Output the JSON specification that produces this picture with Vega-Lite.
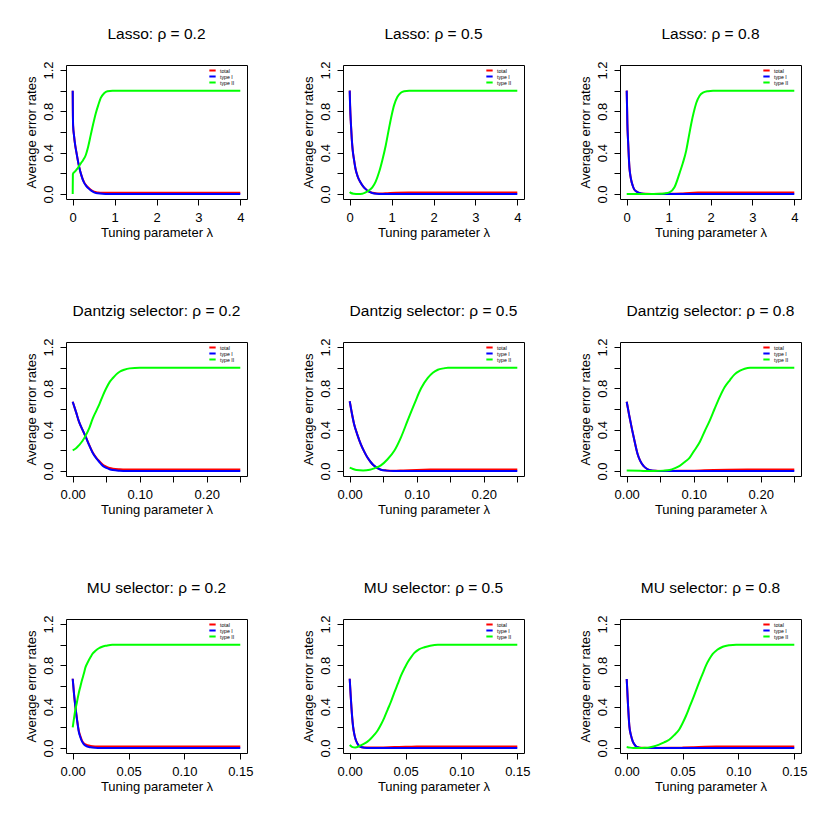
{
"$schema":"https://vega.github.io/schema/vega-lite/v6.json",
"padding":{"left":24,"top":26,"right":0,"bottom":0},
"background":"white",
"data":{"values":[
{"p":"L2","s":"total","x":0,"y":1.0},{"p":"L2","s":"total","x":0.004,"y":0.8},{"p":"L2","s":"total","x":0.01,"y":0.66},{"p":"L2","s":"total","x":0.03,"y":0.57},{"p":"L2","s":"total","x":0.06,"y":0.47},{"p":"L2","s":"total","x":0.09,"y":0.4},{"p":"L2","s":"total","x":0.15,"y":0.27},{"p":"L2","s":"total","x":0.2,"y":0.19},{"p":"L2","s":"total","x":0.27,"y":0.115},{"p":"L2","s":"total","x":0.33,"y":0.08},{"p":"L2","s":"total","x":0.39,"y":0.055},{"p":"L2","s":"total","x":0.45,"y":0.035},{"p":"L2","s":"total","x":0.51,"y":0.022},{"p":"L2","s":"total","x":0.6,"y":0.015},{"p":"L2","s":"total","x":0.71,"y":0.012},{"p":"L2","s":"total","x":0.85,"y":0.012},{"p":"L2","s":"total","x":1,"y":0.012},{"p":"L2","s":"total","x":2,"y":0.012},{"p":"L2","s":"total","x":3,"y":0.012},{"p":"L2","s":"total","x":4,"y":0.012},
{"p":"L2","s":"type I","x":0,"y":1.0},{"p":"L2","s":"type I","x":0.004,"y":0.8},{"p":"L2","s":"type I","x":0.01,"y":0.66},{"p":"L2","s":"type I","x":0.03,"y":0.57},{"p":"L2","s":"type I","x":0.06,"y":0.47},{"p":"L2","s":"type I","x":0.09,"y":0.4},{"p":"L2","s":"type I","x":0.15,"y":0.27},{"p":"L2","s":"type I","x":0.2,"y":0.19},{"p":"L2","s":"type I","x":0.27,"y":0.11},{"p":"L2","s":"type I","x":0.33,"y":0.075},{"p":"L2","s":"type I","x":0.39,"y":0.05},{"p":"L2","s":"type I","x":0.45,"y":0.03},{"p":"L2","s":"type I","x":0.51,"y":0.016},{"p":"L2","s":"type I","x":0.6,"y":0.007},{"p":"L2","s":"type I","x":0.71,"y":0.002},{"p":"L2","s":"type I","x":0.85,"y":0},{"p":"L2","s":"type I","x":1,"y":0},{"p":"L2","s":"type I","x":2,"y":0},{"p":"L2","s":"type I","x":3,"y":0},{"p":"L2","s":"type I","x":4,"y":0},
{"p":"L2","s":"type II","x":0,"y":0},{"p":"L2","s":"type II","x":0.004,"y":0.19},{"p":"L2","s":"type II","x":0.02,"y":0.205},{"p":"L2","s":"type II","x":0.06,"y":0.22},{"p":"L2","s":"type II","x":0.1,"y":0.24},{"p":"L2","s":"type II","x":0.15,"y":0.27},{"p":"L2","s":"type II","x":0.2,"y":0.3},{"p":"L2","s":"type II","x":0.25,"y":0.33},{"p":"L2","s":"type II","x":0.31,"y":0.375},{"p":"L2","s":"type II","x":0.37,"y":0.46},{"p":"L2","s":"type II","x":0.43,"y":0.57},{"p":"L2","s":"type II","x":0.49,"y":0.68},{"p":"L2","s":"type II","x":0.55,"y":0.78},{"p":"L2","s":"type II","x":0.61,"y":0.86},{"p":"L2","s":"type II","x":0.67,"y":0.93},{"p":"L2","s":"type II","x":0.75,"y":0.975},{"p":"L2","s":"type II","x":0.83,"y":0.995},{"p":"L2","s":"type II","x":0.95,"y":1},{"p":"L2","s":"type II","x":1.5,"y":1},{"p":"L2","s":"type II","x":2,"y":1},{"p":"L2","s":"type II","x":3,"y":1},{"p":"L2","s":"type II","x":4,"y":1},

{"p":"L5","s":"total","x":0,"y":1.0},{"p":"L5","s":"total","x":0.01,"y":0.85},{"p":"L5","s":"total","x":0.03,"y":0.67},{"p":"L5","s":"total","x":0.05,"y":0.53},{"p":"L5","s":"total","x":0.07,"y":0.43},{"p":"L5","s":"total","x":0.1,"y":0.34},{"p":"L5","s":"total","x":0.136,"y":0.25},{"p":"L5","s":"total","x":0.19,"y":0.17},{"p":"L5","s":"total","x":0.256,"y":0.114},{"p":"L5","s":"total","x":0.32,"y":0.075},{"p":"L5","s":"total","x":0.376,"y":0.05},{"p":"L5","s":"total","x":0.45,"y":0.025},{"p":"L5","s":"total","x":0.536,"y":0.012},{"p":"L5","s":"total","x":0.65,"y":0.006},{"p":"L5","s":"total","x":0.75,"y":0.005},{"p":"L5","s":"total","x":0.9,"y":0.008},{"p":"L5","s":"total","x":1.1,"y":0.012},{"p":"L5","s":"total","x":1.4,"y":0.014},{"p":"L5","s":"total","x":2,"y":0.014},{"p":"L5","s":"total","x":4,"y":0.014},
{"p":"L5","s":"type I","x":0,"y":1.0},{"p":"L5","s":"type I","x":0.01,"y":0.85},{"p":"L5","s":"type I","x":0.03,"y":0.67},{"p":"L5","s":"type I","x":0.05,"y":0.53},{"p":"L5","s":"type I","x":0.07,"y":0.43},{"p":"L5","s":"type I","x":0.1,"y":0.34},{"p":"L5","s":"type I","x":0.136,"y":0.25},{"p":"L5","s":"type I","x":0.19,"y":0.17},{"p":"L5","s":"type I","x":0.256,"y":0.114},{"p":"L5","s":"type I","x":0.32,"y":0.075},{"p":"L5","s":"type I","x":0.376,"y":0.05},{"p":"L5","s":"type I","x":0.45,"y":0.025},{"p":"L5","s":"type I","x":0.536,"y":0.01},{"p":"L5","s":"type I","x":0.65,"y":0.002},{"p":"L5","s":"type I","x":0.75,"y":0},{"p":"L5","s":"type I","x":1,"y":0},{"p":"L5","s":"type I","x":2,"y":0},{"p":"L5","s":"type I","x":4,"y":0},
{"p":"L5","s":"type II","x":0,"y":0.02},{"p":"L5","s":"type II","x":0.03,"y":0.01},{"p":"L5","s":"type II","x":0.1,"y":0.003},{"p":"L5","s":"type II","x":0.2,"y":0},{"p":"L5","s":"type II","x":0.3,"y":0.003},{"p":"L5","s":"type II","x":0.38,"y":0.016},{"p":"L5","s":"type II","x":0.46,"y":0.035},{"p":"L5","s":"type II","x":0.54,"y":0.065},{"p":"L5","s":"type II","x":0.62,"y":0.12},{"p":"L5","s":"type II","x":0.7,"y":0.21},{"p":"L5","s":"type II","x":0.78,"y":0.33},{"p":"L5","s":"type II","x":0.86,"y":0.47},{"p":"L5","s":"type II","x":0.94,"y":0.64},{"p":"L5","s":"type II","x":1.0,"y":0.76},{"p":"L5","s":"type II","x":1.06,"y":0.86},{"p":"L5","s":"type II","x":1.14,"y":0.94},{"p":"L5","s":"type II","x":1.22,"y":0.98},{"p":"L5","s":"type II","x":1.3,"y":0.995},{"p":"L5","s":"type II","x":1.42,"y":1},{"p":"L5","s":"type II","x":2,"y":1},{"p":"L5","s":"type II","x":3,"y":1},{"p":"L5","s":"type II","x":4,"y":1},

{"p":"L8","s":"total","x":0,"y":1.0},{"p":"L8","s":"total","x":0.008,"y":0.85},{"p":"L8","s":"total","x":0.016,"y":0.68},{"p":"L8","s":"total","x":0.032,"y":0.52},{"p":"L8","s":"total","x":0.048,"y":0.38},{"p":"L8","s":"total","x":0.064,"y":0.26},{"p":"L8","s":"total","x":0.08,"y":0.2},{"p":"L8","s":"total","x":0.104,"y":0.14},{"p":"L8","s":"total","x":0.144,"y":0.08},{"p":"L8","s":"total","x":0.18,"y":0.045},{"p":"L8","s":"total","x":0.224,"y":0.026},{"p":"L8","s":"total","x":0.28,"y":0.013},{"p":"L8","s":"total","x":0.344,"y":0.006},{"p":"L8","s":"total","x":0.45,"y":0.002},{"p":"L8","s":"total","x":0.6,"y":0.001},{"p":"L8","s":"total","x":1.0,"y":0.002},{"p":"L8","s":"total","x":1.3,"y":0.006},{"p":"L8","s":"total","x":1.5,"y":0.011},{"p":"L8","s":"total","x":1.7,"y":0.014},{"p":"L8","s":"total","x":2,"y":0.015},{"p":"L8","s":"total","x":4,"y":0.015},
{"p":"L8","s":"type I","x":0,"y":1.0},{"p":"L8","s":"type I","x":0.008,"y":0.85},{"p":"L8","s":"type I","x":0.016,"y":0.68},{"p":"L8","s":"type I","x":0.032,"y":0.52},{"p":"L8","s":"type I","x":0.048,"y":0.38},{"p":"L8","s":"type I","x":0.064,"y":0.26},{"p":"L8","s":"type I","x":0.08,"y":0.2},{"p":"L8","s":"type I","x":0.104,"y":0.14},{"p":"L8","s":"type I","x":0.144,"y":0.08},{"p":"L8","s":"type I","x":0.18,"y":0.045},{"p":"L8","s":"type I","x":0.224,"y":0.026},{"p":"L8","s":"type I","x":0.28,"y":0.013},{"p":"L8","s":"type I","x":0.344,"y":0.006},{"p":"L8","s":"type I","x":0.45,"y":0.001},{"p":"L8","s":"type I","x":0.6,"y":0},{"p":"L8","s":"type I","x":1,"y":0},{"p":"L8","s":"type I","x":2,"y":0},{"p":"L8","s":"type I","x":4,"y":0},
{"p":"L8","s":"type II","x":0,"y":0},{"p":"L8","s":"type II","x":0.5,"y":0},{"p":"L8","s":"type II","x":0.8,"y":0.002},{"p":"L8","s":"type II","x":0.9,"y":0.006},{"p":"L8","s":"type II","x":1.02,"y":0.016},{"p":"L8","s":"type II","x":1.14,"y":0.065},{"p":"L8","s":"type II","x":1.26,"y":0.2},{"p":"L8","s":"type II","x":1.34,"y":0.3},{"p":"L8","s":"type II","x":1.42,"y":0.42},{"p":"L8","s":"type II","x":1.48,"y":0.55},{"p":"L8","s":"type II","x":1.54,"y":0.68},{"p":"L8","s":"type II","x":1.6,"y":0.79},{"p":"L8","s":"type II","x":1.66,"y":0.88},{"p":"L8","s":"type II","x":1.74,"y":0.95},{"p":"L8","s":"type II","x":1.82,"y":0.98},{"p":"L8","s":"type II","x":1.94,"y":0.995},{"p":"L8","s":"type II","x":2.06,"y":1},{"p":"L8","s":"type II","x":2.5,"y":1},{"p":"L8","s":"type II","x":3,"y":1},{"p":"L8","s":"type II","x":4,"y":1},

{"p":"D2","s":"total","x":0,"y":0.67},{"p":"D2","s":"total","x":0.005,"y":0.57},{"p":"D2","s":"total","x":0.0095,"y":0.475},{"p":"D2","s":"total","x":0.0145,"y":0.4},{"p":"D2","s":"total","x":0.0195,"y":0.33},{"p":"D2","s":"total","x":0.0245,"y":0.255},{"p":"D2","s":"total","x":0.0295,"y":0.185},{"p":"D2","s":"total","x":0.035,"y":0.13},{"p":"D2","s":"total","x":0.04,"y":0.093},{"p":"D2","s":"total","x":0.045,"y":0.06},{"p":"D2","s":"total","x":0.05,"y":0.042},{"p":"D2","s":"total","x":0.055,"y":0.03},{"p":"D2","s":"total","x":0.06,"y":0.023},{"p":"D2","s":"total","x":0.07,"y":0.017},{"p":"D2","s":"total","x":0.08,"y":0.015},{"p":"D2","s":"total","x":0.15,"y":0.015},{"p":"D2","s":"total","x":0.25,"y":0.015},
{"p":"D2","s":"type I","x":0,"y":0.67},{"p":"D2","s":"type I","x":0.005,"y":0.57},{"p":"D2","s":"type I","x":0.0095,"y":0.475},{"p":"D2","s":"type I","x":0.0145,"y":0.4},{"p":"D2","s":"type I","x":0.0195,"y":0.33},{"p":"D2","s":"type I","x":0.0245,"y":0.25},{"p":"D2","s":"type I","x":0.0295,"y":0.18},{"p":"D2","s":"type I","x":0.035,"y":0.125},{"p":"D2","s":"type I","x":0.04,"y":0.085},{"p":"D2","s":"type I","x":0.045,"y":0.05},{"p":"D2","s":"type I","x":0.05,"y":0.03},{"p":"D2","s":"type I","x":0.055,"y":0.018},{"p":"D2","s":"type I","x":0.06,"y":0.01},{"p":"D2","s":"type I","x":0.07,"y":0.003},{"p":"D2","s":"type I","x":0.08,"y":0},{"p":"D2","s":"type I","x":0.15,"y":0},{"p":"D2","s":"type I","x":0.25,"y":0},
{"p":"D2","s":"type II","x":0,"y":0.2},{"p":"D2","s":"type II","x":0.005,"y":0.22},{"p":"D2","s":"type II","x":0.0095,"y":0.25},{"p":"D2","s":"type II","x":0.0145,"y":0.29},{"p":"D2","s":"type II","x":0.0195,"y":0.345},{"p":"D2","s":"type II","x":0.025,"y":0.42},{"p":"D2","s":"type II","x":0.03,"y":0.51},{"p":"D2","s":"type II","x":0.035,"y":0.58},{"p":"D2","s":"type II","x":0.04,"y":0.65},{"p":"D2","s":"type II","x":0.045,"y":0.73},{"p":"D2","s":"type II","x":0.05,"y":0.8},{"p":"D2","s":"type II","x":0.055,"y":0.86},{"p":"D2","s":"type II","x":0.06,"y":0.9},{"p":"D2","s":"type II","x":0.065,"y":0.935},{"p":"D2","s":"type II","x":0.07,"y":0.96},{"p":"D2","s":"type II","x":0.077,"y":0.98},{"p":"D2","s":"type II","x":0.085,"y":0.993},{"p":"D2","s":"type II","x":0.1,"y":1},{"p":"D2","s":"type II","x":0.15,"y":1},{"p":"D2","s":"type II","x":0.25,"y":1},

{"p":"D5","s":"total","x":0,"y":0.675},{"p":"D5","s":"total","x":0.0065,"y":0.456},{"p":"D5","s":"total","x":0.0115,"y":0.35},{"p":"D5","s":"total","x":0.0165,"y":0.26},{"p":"D5","s":"total","x":0.0215,"y":0.19},{"p":"D5","s":"total","x":0.0265,"y":0.13},{"p":"D5","s":"total","x":0.0315,"y":0.085},{"p":"D5","s":"total","x":0.0365,"y":0.05},{"p":"D5","s":"total","x":0.0415,"y":0.028},{"p":"D5","s":"total","x":0.0465,"y":0.014},{"p":"D5","s":"total","x":0.055,"y":0.006},{"p":"D5","s":"total","x":0.065,"y":0.003},{"p":"D5","s":"total","x":0.08,"y":0.006},{"p":"D5","s":"total","x":0.1,"y":0.011},{"p":"D5","s":"total","x":0.12,"y":0.014},{"p":"D5","s":"total","x":0.15,"y":0.015},{"p":"D5","s":"total","x":0.25,"y":0.015},
{"p":"D5","s":"type I","x":0,"y":0.675},{"p":"D5","s":"type I","x":0.0065,"y":0.456},{"p":"D5","s":"type I","x":0.0115,"y":0.35},{"p":"D5","s":"type I","x":0.0165,"y":0.26},{"p":"D5","s":"type I","x":0.0215,"y":0.19},{"p":"D5","s":"type I","x":0.0265,"y":0.13},{"p":"D5","s":"type I","x":0.0315,"y":0.085},{"p":"D5","s":"type I","x":0.0365,"y":0.05},{"p":"D5","s":"type I","x":0.0415,"y":0.028},{"p":"D5","s":"type I","x":0.0465,"y":0.013},{"p":"D5","s":"type I","x":0.055,"y":0.004},{"p":"D5","s":"type I","x":0.065,"y":0},{"p":"D5","s":"type I","x":0.15,"y":0},{"p":"D5","s":"type I","x":0.25,"y":0},
{"p":"D5","s":"type II","x":0,"y":0.033},{"p":"D5","s":"type II","x":0.005,"y":0.02},{"p":"D5","s":"type II","x":0.01,"y":0.01},{"p":"D5","s":"type II","x":0.02,"y":0.006},{"p":"D5","s":"type II","x":0.03,"y":0.012},{"p":"D5","s":"type II","x":0.0365,"y":0.026},{"p":"D5","s":"type II","x":0.0465,"y":0.055},{"p":"D5","s":"type II","x":0.0565,"y":0.114},{"p":"D5","s":"type II","x":0.0665,"y":0.196},{"p":"D5","s":"type II","x":0.0765,"y":0.326},{"p":"D5","s":"type II","x":0.0865,"y":0.49},{"p":"D5","s":"type II","x":0.0965,"y":0.65},{"p":"D5","s":"type II","x":0.1065,"y":0.8},{"p":"D5","s":"type II","x":0.1165,"y":0.9},{"p":"D5","s":"type II","x":0.124,"y":0.95},{"p":"D5","s":"type II","x":0.1315,"y":0.98},{"p":"D5","s":"type II","x":0.14,"y":0.993},{"p":"D5","s":"type II","x":0.1465,"y":1},{"p":"D5","s":"type II","x":0.2,"y":1},{"p":"D5","s":"type II","x":0.25,"y":1},

{"p":"D8","s":"total","x":0,"y":0.67},{"p":"D8","s":"total","x":0.004,"y":0.53},{"p":"D8","s":"total","x":0.008,"y":0.4},{"p":"D8","s":"total","x":0.012,"y":0.28},{"p":"D8","s":"total","x":0.016,"y":0.17},{"p":"D8","s":"total","x":0.02,"y":0.1},{"p":"D8","s":"total","x":0.025,"y":0.05},{"p":"D8","s":"total","x":0.03,"y":0.022},{"p":"D8","s":"total","x":0.035,"y":0.008},{"p":"D8","s":"total","x":0.042,"y":0.002},{"p":"D8","s":"total","x":0.05,"y":0.001},{"p":"D8","s":"total","x":0.08,"y":0.002},{"p":"D8","s":"total","x":0.11,"y":0.006},{"p":"D8","s":"total","x":0.13,"y":0.01},{"p":"D8","s":"total","x":0.15,"y":0.013},{"p":"D8","s":"total","x":0.18,"y":0.015},{"p":"D8","s":"total","x":0.25,"y":0.015},
{"p":"D8","s":"type I","x":0,"y":0.67},{"p":"D8","s":"type I","x":0.004,"y":0.53},{"p":"D8","s":"type I","x":0.008,"y":0.4},{"p":"D8","s":"type I","x":0.012,"y":0.28},{"p":"D8","s":"type I","x":0.016,"y":0.17},{"p":"D8","s":"type I","x":0.02,"y":0.1},{"p":"D8","s":"type I","x":0.025,"y":0.05},{"p":"D8","s":"type I","x":0.03,"y":0.022},{"p":"D8","s":"type I","x":0.035,"y":0.008},{"p":"D8","s":"type I","x":0.042,"y":0.002},{"p":"D8","s":"type I","x":0.05,"y":0},{"p":"D8","s":"type I","x":0.15,"y":0},{"p":"D8","s":"type I","x":0.25,"y":0},
{"p":"D8","s":"type II","x":0,"y":0.005},{"p":"D8","s":"type II","x":0.02,"y":0.002},{"p":"D8","s":"type II","x":0.04,"y":0},{"p":"D8","s":"type II","x":0.055,"y":0.004},{"p":"D8","s":"type II","x":0.064,"y":0.01},{"p":"D8","s":"type II","x":0.072,"y":0.028},{"p":"D8","s":"type II","x":0.079,"y":0.05},{"p":"D8","s":"type II","x":0.087,"y":0.09},{"p":"D8","s":"type II","x":0.094,"y":0.13},{"p":"D8","s":"type II","x":0.1,"y":0.19},{"p":"D8","s":"type II","x":0.109,"y":0.28},{"p":"D8","s":"type II","x":0.116,"y":0.38},{"p":"D8","s":"type II","x":0.124,"y":0.49},{"p":"D8","s":"type II","x":0.131,"y":0.6},{"p":"D8","s":"type II","x":0.139,"y":0.72},{"p":"D8","s":"type II","x":0.146,"y":0.81},{"p":"D8","s":"type II","x":0.154,"y":0.88},{"p":"D8","s":"type II","x":0.161,"y":0.935},{"p":"D8","s":"type II","x":0.169,"y":0.97},{"p":"D8","s":"type II","x":0.176,"y":0.99},{"p":"D8","s":"type II","x":0.184,"y":1},{"p":"D8","s":"type II","x":0.25,"y":1},

{"p":"M2","s":"total","x":0,"y":0.67},{"p":"M2","s":"total","x":0.0012,"y":0.52},{"p":"M2","s":"total","x":0.0024,"y":0.4},{"p":"M2","s":"total","x":0.0039,"y":0.275},{"p":"M2","s":"total","x":0.0054,"y":0.17},{"p":"M2","s":"total","x":0.007,"y":0.11},{"p":"M2","s":"total","x":0.0084,"y":0.07},{"p":"M2","s":"total","x":0.0114,"y":0.035},{"p":"M2","s":"total","x":0.016,"y":0.02},{"p":"M2","s":"total","x":0.02,"y":0.016},{"p":"M2","s":"total","x":0.03,"y":0.015},{"p":"M2","s":"total","x":0.15,"y":0.015},
{"p":"M2","s":"type I","x":0,"y":0.67},{"p":"M2","s":"type I","x":0.0012,"y":0.52},{"p":"M2","s":"type I","x":0.0024,"y":0.4},{"p":"M2","s":"type I","x":0.0039,"y":0.27},{"p":"M2","s":"type I","x":0.0054,"y":0.16},{"p":"M2","s":"type I","x":0.007,"y":0.1},{"p":"M2","s":"type I","x":0.0084,"y":0.062},{"p":"M2","s":"type I","x":0.0114,"y":0.023},{"p":"M2","s":"type I","x":0.016,"y":0.007},{"p":"M2","s":"type I","x":0.02,"y":0.002},{"p":"M2","s":"type I","x":0.025,"y":0},{"p":"M2","s":"type I","x":0.15,"y":0},
{"p":"M2","s":"type II","x":0,"y":0.2},{"p":"M2","s":"type II","x":0.0012,"y":0.29},{"p":"M2","s":"type II","x":0.0024,"y":0.37},{"p":"M2","s":"type II","x":0.0039,"y":0.45},{"p":"M2","s":"type II","x":0.0054,"y":0.53},{"p":"M2","s":"type II","x":0.007,"y":0.6},{"p":"M2","s":"type II","x":0.0084,"y":0.66},{"p":"M2","s":"type II","x":0.01,"y":0.72},{"p":"M2","s":"type II","x":0.0114,"y":0.78},{"p":"M2","s":"type II","x":0.0135,"y":0.83},{"p":"M2","s":"type II","x":0.016,"y":0.88},{"p":"M2","s":"type II","x":0.018,"y":0.915},{"p":"M2","s":"type II","x":0.0204,"y":0.94},{"p":"M2","s":"type II","x":0.0234,"y":0.965},{"p":"M2","s":"type II","x":0.0264,"y":0.98},{"p":"M2","s":"type II","x":0.03,"y":0.99},{"p":"M2","s":"type II","x":0.0354,"y":1},{"p":"M2","s":"type II","x":0.15,"y":1},

{"p":"M5","s":"total","x":0,"y":0.67},{"p":"M5","s":"total","x":0.0008,"y":0.52},{"p":"M5","s":"total","x":0.0015,"y":0.4},{"p":"M5","s":"total","x":0.003,"y":0.21},{"p":"M5","s":"total","x":0.0042,"y":0.13},{"p":"M5","s":"total","x":0.0054,"y":0.08},{"p":"M5","s":"total","x":0.007,"y":0.042},{"p":"M5","s":"total","x":0.0084,"y":0.02},{"p":"M5","s":"total","x":0.011,"y":0.008},{"p":"M5","s":"total","x":0.015,"y":0.004},{"p":"M5","s":"total","x":0.02,"y":0.004},{"p":"M5","s":"total","x":0.03,"y":0.006},{"p":"M5","s":"total","x":0.04,"y":0.009},{"p":"M5","s":"total","x":0.05,"y":0.012},{"p":"M5","s":"total","x":0.06,"y":0.014},{"p":"M5","s":"total","x":0.08,"y":0.015},{"p":"M5","s":"total","x":0.15,"y":0.015},
{"p":"M5","s":"type I","x":0,"y":0.67},{"p":"M5","s":"type I","x":0.0008,"y":0.52},{"p":"M5","s":"type I","x":0.0015,"y":0.4},{"p":"M5","s":"type I","x":0.003,"y":0.21},{"p":"M5","s":"type I","x":0.0042,"y":0.13},{"p":"M5","s":"type I","x":0.0054,"y":0.08},{"p":"M5","s":"type I","x":0.007,"y":0.042},{"p":"M5","s":"type I","x":0.0084,"y":0.02},{"p":"M5","s":"type I","x":0.011,"y":0.007},{"p":"M5","s":"type I","x":0.013,"y":0.003},{"p":"M5","s":"type I","x":0.018,"y":0},{"p":"M5","s":"type I","x":0.15,"y":0},
{"p":"M5","s":"type II","x":0,"y":0.03},{"p":"M5","s":"type II","x":0.002,"y":0.012},{"p":"M5","s":"type II","x":0.005,"y":0.005},{"p":"M5","s":"type II","x":0.0075,"y":0.012},{"p":"M5","s":"type II","x":0.0099,"y":0.026},{"p":"M5","s":"type II","x":0.013,"y":0.042},{"p":"M5","s":"type II","x":0.0159,"y":0.062},{"p":"M5","s":"type II","x":0.019,"y":0.092},{"p":"M5","s":"type II","x":0.0219,"y":0.127},{"p":"M5","s":"type II","x":0.025,"y":0.17},{"p":"M5","s":"type II","x":0.0279,"y":0.225},{"p":"M5","s":"type II","x":0.031,"y":0.295},{"p":"M5","s":"type II","x":0.0339,"y":0.37},{"p":"M5","s":"type II","x":0.037,"y":0.45},{"p":"M5","s":"type II","x":0.0399,"y":0.535},{"p":"M5","s":"type II","x":0.043,"y":0.62},{"p":"M5","s":"type II","x":0.0459,"y":0.7},{"p":"M5","s":"type II","x":0.049,"y":0.77},{"p":"M5","s":"type II","x":0.0519,"y":0.83},{"p":"M5","s":"type II","x":0.055,"y":0.88},{"p":"M5","s":"type II","x":0.0579,"y":0.92},{"p":"M5","s":"type II","x":0.062,"y":0.955},{"p":"M5","s":"type II","x":0.0669,"y":0.975},{"p":"M5","s":"type II","x":0.072,"y":0.99},{"p":"M5","s":"type II","x":0.0789,"y":1},{"p":"M5","s":"type II","x":0.15,"y":1},

{"p":"M8","s":"total","x":0,"y":0.668},{"p":"M8","s":"total","x":0.0006,"y":0.54},{"p":"M8","s":"total","x":0.0012,"y":0.41},{"p":"M8","s":"total","x":0.0018,"y":0.3},{"p":"M8","s":"total","x":0.0024,"y":0.21},{"p":"M8","s":"total","x":0.0039,"y":0.12},{"p":"M8","s":"total","x":0.0054,"y":0.065},{"p":"M8","s":"total","x":0.0069,"y":0.035},{"p":"M8","s":"total","x":0.0084,"y":0.016},{"p":"M8","s":"total","x":0.0105,"y":0.006},{"p":"M8","s":"total","x":0.013,"y":0.002},{"p":"M8","s":"total","x":0.02,"y":0.001},{"p":"M8","s":"total","x":0.04,"y":0.002},{"p":"M8","s":"total","x":0.05,"y":0.004},{"p":"M8","s":"total","x":0.06,"y":0.008},{"p":"M8","s":"total","x":0.07,"y":0.012},{"p":"M8","s":"total","x":0.08,"y":0.014},{"p":"M8","s":"total","x":0.1,"y":0.015},{"p":"M8","s":"total","x":0.15,"y":0.015},
{"p":"M8","s":"type I","x":0,"y":0.668},{"p":"M8","s":"type I","x":0.0006,"y":0.54},{"p":"M8","s":"type I","x":0.0012,"y":0.41},{"p":"M8","s":"type I","x":0.0018,"y":0.3},{"p":"M8","s":"type I","x":0.0024,"y":0.21},{"p":"M8","s":"type I","x":0.0039,"y":0.12},{"p":"M8","s":"type I","x":0.0054,"y":0.065},{"p":"M8","s":"type I","x":0.0069,"y":0.035},{"p":"M8","s":"type I","x":0.0084,"y":0.016},{"p":"M8","s":"type I","x":0.0105,"y":0.006},{"p":"M8","s":"type I","x":0.013,"y":0.001},{"p":"M8","s":"type I","x":0.016,"y":0},{"p":"M8","s":"type I","x":0.15,"y":0},
{"p":"M8","s":"type II","x":0,"y":0.01},{"p":"M8","s":"type II","x":0.003,"y":0.004},{"p":"M8","s":"type II","x":0.006,"y":0.001},{"p":"M8","s":"type II","x":0.012,"y":0},{"p":"M8","s":"type II","x":0.016,"y":0.002},{"p":"M8","s":"type II","x":0.02,"y":0.006},{"p":"M8","s":"type II","x":0.024,"y":0.015},{"p":"M8","s":"type II","x":0.029,"y":0.033},{"p":"M8","s":"type II","x":0.0335,"y":0.055},{"p":"M8","s":"type II","x":0.038,"y":0.08},{"p":"M8","s":"type II","x":0.0425,"y":0.125},{"p":"M8","s":"type II","x":0.047,"y":0.18},{"p":"M8","s":"type II","x":0.05,"y":0.24},{"p":"M8","s":"type II","x":0.053,"y":0.31},{"p":"M8","s":"type II","x":0.056,"y":0.39},{"p":"M8","s":"type II","x":0.059,"y":0.47},{"p":"M8","s":"type II","x":0.062,"y":0.555},{"p":"M8","s":"type II","x":0.065,"y":0.64},{"p":"M8","s":"type II","x":0.068,"y":0.72},{"p":"M8","s":"type II","x":0.071,"y":0.8},{"p":"M8","s":"type II","x":0.074,"y":0.86},{"p":"M8","s":"type II","x":0.077,"y":0.91},{"p":"M8","s":"type II","x":0.081,"y":0.95},{"p":"M8","s":"type II","x":0.086,"y":0.98},{"p":"M8","s":"type II","x":0.092,"y":0.995},{"p":"M8","s":"type II","x":0.098,"y":1},{"p":"M8","s":"type II","x":0.15,"y":1}
]},
"columns":3,
"spacing":{"row":143,"column":96},
"bounds":"flush",
"resolve":{"scale":{"color":"independent"},"legend":{"color":"independent"}},
"concat":[
{"title":"Lasso: ρ = 0.2","width":181,"height":134,"transform":[{"filter":"datum.p=='L2'"}],
 "encoding":{"x":{"field":"x","type":"quantitative","scale":{"domain":[-0.16,4.16],"nice":false,"zero":false},"axis":{"values":[0,1,2,3,4],"format":"d","title":"Tuning parameter λ"}},
  "y":{"field":"y","type":"quantitative","scale":{"domain":[-0.048,1.248],"nice":false},"axis":{"values":[0,0.2,0.4,0.6,0.8,1,1.2],"labelExpr":"round(datum.value*10)%4==0 ? format(datum.value,'.1f') : ''","title":"Average error rates"}},
  "color":{"field":"s","type":"nominal","title":null,"scale":{"domain":["total","type I","type II"],"range":["#ff0000","#0000ff","#00ff00"]}}},
 "layer":[{"transform":[{"filter":"datum.s=='total'"}],"mark":"line"},{"transform":[{"filter":"datum.s=='type I'"}],"mark":"line"},{"transform":[{"filter":"datum.s=='type II'"}],"mark":"line"}]},
{"title":"Lasso: ρ = 0.5","width":181,"height":134,"transform":[{"filter":"datum.p=='L5'"}],
 "encoding":{"x":{"field":"x","type":"quantitative","scale":{"domain":[-0.16,4.16],"nice":false,"zero":false},"axis":{"values":[0,1,2,3,4],"format":"d","title":"Tuning parameter λ"}},
  "y":{"field":"y","type":"quantitative","scale":{"domain":[-0.048,1.248],"nice":false},"axis":{"values":[0,0.2,0.4,0.6,0.8,1,1.2],"labelExpr":"round(datum.value*10)%4==0 ? format(datum.value,'.1f') : ''","title":"Average error rates"}},
  "color":{"field":"s","type":"nominal","title":null,"scale":{"domain":["total","type I","type II"],"range":["#ff0000","#0000ff","#00ff00"]}}},
 "layer":[{"transform":[{"filter":"datum.s=='total'"}],"mark":"line"},{"transform":[{"filter":"datum.s=='type I'"}],"mark":"line"},{"transform":[{"filter":"datum.s=='type II'"}],"mark":"line"}]},
{"title":"Lasso: ρ = 0.8","width":181,"height":134,"transform":[{"filter":"datum.p=='L8'"}],
 "encoding":{"x":{"field":"x","type":"quantitative","scale":{"domain":[-0.16,4.16],"nice":false,"zero":false},"axis":{"values":[0,1,2,3,4],"format":"d","title":"Tuning parameter λ"}},
  "y":{"field":"y","type":"quantitative","scale":{"domain":[-0.048,1.248],"nice":false},"axis":{"values":[0,0.2,0.4,0.6,0.8,1,1.2],"labelExpr":"round(datum.value*10)%4==0 ? format(datum.value,'.1f') : ''","title":"Average error rates"}},
  "color":{"field":"s","type":"nominal","title":null,"scale":{"domain":["total","type I","type II"],"range":["#ff0000","#0000ff","#00ff00"]}}},
 "layer":[{"transform":[{"filter":"datum.s=='total'"}],"mark":"line"},{"transform":[{"filter":"datum.s=='type I'"}],"mark":"line"},{"transform":[{"filter":"datum.s=='type II'"}],"mark":"line"}]},
{"title":"Dantzig selector: ρ = 0.2","width":181,"height":134,"transform":[{"filter":"datum.p=='D2'"}],
 "encoding":{"x":{"field":"x","type":"quantitative","scale":{"domain":[-0.01,0.26],"nice":false,"zero":false},"axis":{"values":[0,0.05,0.1,0.15,0.2,0.25],"labelExpr":"round(datum.value*100)%10==0 ? format(datum.value,'.2f') : ''","title":"Tuning parameter λ"}},
  "y":{"field":"y","type":"quantitative","scale":{"domain":[-0.048,1.248],"nice":false},"axis":{"values":[0,0.2,0.4,0.6,0.8,1,1.2],"labelExpr":"round(datum.value*10)%4==0 ? format(datum.value,'.1f') : ''","title":"Average error rates"}},
  "color":{"field":"s","type":"nominal","title":null,"scale":{"domain":["total","type I","type II"],"range":["#ff0000","#0000ff","#00ff00"]}}},
 "layer":[{"transform":[{"filter":"datum.s=='total'"}],"mark":"line"},{"transform":[{"filter":"datum.s=='type I'"}],"mark":"line"},{"transform":[{"filter":"datum.s=='type II'"}],"mark":"line"}]},
{"title":"Dantzig selector: ρ = 0.5","width":181,"height":134,"transform":[{"filter":"datum.p=='D5'"}],
 "encoding":{"x":{"field":"x","type":"quantitative","scale":{"domain":[-0.01,0.26],"nice":false,"zero":false},"axis":{"values":[0,0.05,0.1,0.15,0.2,0.25],"labelExpr":"round(datum.value*100)%10==0 ? format(datum.value,'.2f') : ''","title":"Tuning parameter λ"}},
  "y":{"field":"y","type":"quantitative","scale":{"domain":[-0.048,1.248],"nice":false},"axis":{"values":[0,0.2,0.4,0.6,0.8,1,1.2],"labelExpr":"round(datum.value*10)%4==0 ? format(datum.value,'.1f') : ''","title":"Average error rates"}},
  "color":{"field":"s","type":"nominal","title":null,"scale":{"domain":["total","type I","type II"],"range":["#ff0000","#0000ff","#00ff00"]}}},
 "layer":[{"transform":[{"filter":"datum.s=='total'"}],"mark":"line"},{"transform":[{"filter":"datum.s=='type I'"}],"mark":"line"},{"transform":[{"filter":"datum.s=='type II'"}],"mark":"line"}]},
{"title":"Dantzig selector: ρ = 0.8","width":181,"height":134,"transform":[{"filter":"datum.p=='D8'"}],
 "encoding":{"x":{"field":"x","type":"quantitative","scale":{"domain":[-0.01,0.26],"nice":false,"zero":false},"axis":{"values":[0,0.05,0.1,0.15,0.2,0.25],"labelExpr":"round(datum.value*100)%10==0 ? format(datum.value,'.2f') : ''","title":"Tuning parameter λ"}},
  "y":{"field":"y","type":"quantitative","scale":{"domain":[-0.048,1.248],"nice":false},"axis":{"values":[0,0.2,0.4,0.6,0.8,1,1.2],"labelExpr":"round(datum.value*10)%4==0 ? format(datum.value,'.1f') : ''","title":"Average error rates"}},
  "color":{"field":"s","type":"nominal","title":null,"scale":{"domain":["total","type I","type II"],"range":["#ff0000","#0000ff","#00ff00"]}}},
 "layer":[{"transform":[{"filter":"datum.s=='total'"}],"mark":"line"},{"transform":[{"filter":"datum.s=='type I'"}],"mark":"line"},{"transform":[{"filter":"datum.s=='type II'"}],"mark":"line"}]},
{"title":"MU selector: ρ = 0.2","width":181,"height":134,"transform":[{"filter":"datum.p=='M2'"}],
 "encoding":{"x":{"field":"x","type":"quantitative","scale":{"domain":[-0.006,0.156],"nice":false,"zero":false},"axis":{"values":[0,0.05,0.1,0.15],"format":".2f","title":"Tuning parameter λ"}},
  "y":{"field":"y","type":"quantitative","scale":{"domain":[-0.048,1.248],"nice":false},"axis":{"values":[0,0.2,0.4,0.6,0.8,1,1.2],"labelExpr":"round(datum.value*10)%4==0 ? format(datum.value,'.1f') : ''","title":"Average error rates"}},
  "color":{"field":"s","type":"nominal","title":null,"scale":{"domain":["total","type I","type II"],"range":["#ff0000","#0000ff","#00ff00"]}}},
 "layer":[{"transform":[{"filter":"datum.s=='total'"}],"mark":"line"},{"transform":[{"filter":"datum.s=='type I'"}],"mark":"line"},{"transform":[{"filter":"datum.s=='type II'"}],"mark":"line"}]},
{"title":"MU selector: ρ = 0.5","width":181,"height":134,"transform":[{"filter":"datum.p=='M5'"}],
 "encoding":{"x":{"field":"x","type":"quantitative","scale":{"domain":[-0.006,0.156],"nice":false,"zero":false},"axis":{"values":[0,0.05,0.1,0.15],"format":".2f","title":"Tuning parameter λ"}},
  "y":{"field":"y","type":"quantitative","scale":{"domain":[-0.048,1.248],"nice":false},"axis":{"values":[0,0.2,0.4,0.6,0.8,1,1.2],"labelExpr":"round(datum.value*10)%4==0 ? format(datum.value,'.1f') : ''","title":"Average error rates"}},
  "color":{"field":"s","type":"nominal","title":null,"scale":{"domain":["total","type I","type II"],"range":["#ff0000","#0000ff","#00ff00"]}}},
 "layer":[{"transform":[{"filter":"datum.s=='total'"}],"mark":"line"},{"transform":[{"filter":"datum.s=='type I'"}],"mark":"line"},{"transform":[{"filter":"datum.s=='type II'"}],"mark":"line"}]},
{"title":"MU selector: ρ = 0.8","width":181,"height":134,"transform":[{"filter":"datum.p=='M8'"}],
 "encoding":{"x":{"field":"x","type":"quantitative","scale":{"domain":[-0.006,0.156],"nice":false,"zero":false},"axis":{"values":[0,0.05,0.1,0.15],"format":".2f","title":"Tuning parameter λ"}},
  "y":{"field":"y","type":"quantitative","scale":{"domain":[-0.048,1.248],"nice":false},"axis":{"values":[0,0.2,0.4,0.6,0.8,1,1.2],"labelExpr":"round(datum.value*10)%4==0 ? format(datum.value,'.1f') : ''","title":"Average error rates"}},
  "color":{"field":"s","type":"nominal","title":null,"scale":{"domain":["total","type I","type II"],"range":["#ff0000","#0000ff","#00ff00"]}}},
 "layer":[{"transform":[{"filter":"datum.s=='total'"}],"mark":"line"},{"transform":[{"filter":"datum.s=='type I'"}],"mark":"line"},{"transform":[{"filter":"datum.s=='type II'"}],"mark":"line"}]}
],
"config":{
 "font":"Liberation Sans",
 "view":{"stroke":"black","strokeWidth":1},
 "axis":{"domain":false,"grid":false,"tickColor":"black","tickSize":6,"tickWidth":1,"labelColor":"black","labelFont":"Liberation Sans","labelFontSize":13,"titleFont":"Liberation Sans","titleFontSize":13,"titleFontWeight":"normal","titleColor":"black","labelFlush":false,"labelOverlap":false},
 "axisX":{"labelPadding":6,"titlePadding":2},
 "axisY":{"labelAngle":-90,"labelAlign":"center","labelBaseline":"bottom","labelPadding":5,"titlePadding":4},
 "title":{"font":"Liberation Sans","fontSize":15.5,"fontWeight":"normal","color":"black","baseline":"alphabetic","offset":18,"anchor":"middle","frame":"group"},
 "line":{"strokeWidth":2,"interpolate":"monotone"},
 "legend":{"orient":"none","legendX":142,"legendY":3,"symbolType":"stroke","symbolStrokeWidth":2,"symbolSize":40,"labelFontSize":5.2,"labelFont":"Liberation Sans","labelColor":"black","rowPadding":0,"clipHeight":5,"padding":0,"labelOffset":3}
}
}
